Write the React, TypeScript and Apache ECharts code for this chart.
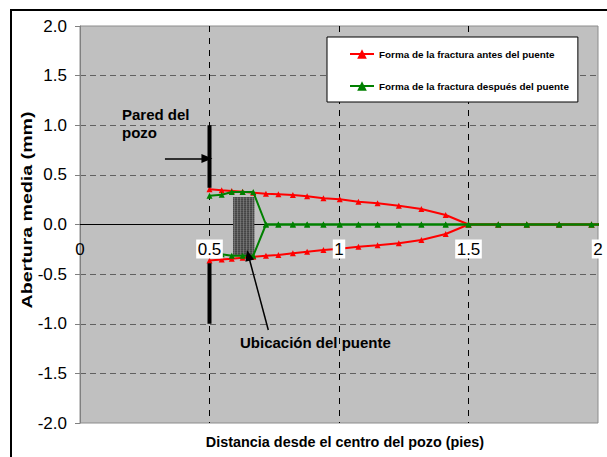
import React, { useEffect, useRef } from "react";
import * as echarts from "echarts";

const FONT = "'Liberation Sans', Arial, sans-serif";

const SERIES_BEFORE = "Forma de la fractura antes del puente";
const SERIES_AFTER = "Forma de la fractura después del puente";

const xTicks = [0, 0.5, 1, 1.5, 2];
const yTicks = [-2, -1.5, -1, -0.5, 0, 0.5, 1, 1.5, 2];

// distance from well centre (ft)
const xPos = [0.5, 0.547, 0.586, 0.628, 0.669, 0.718, 0.766, 0.822, 0.877, 0.94, 1.003, 1.075, 1.149, 1.231, 1.318, 1.412, 1.5, 1.615, 1.725, 1.85, 1.975, 2.1];
// before bridge (mm)
const redUpper = [0.355, 0.345, 0.338, 0.33, 0.32, 0.31, 0.304, 0.297, 0.284, 0.264, 0.254, 0.23, 0.213, 0.19, 0.156, 0.096, 0, 0, 0, 0, 0, 0];
const redLower = [-0.362, -0.352, -0.345, -0.336, -0.326, -0.316, -0.308, -0.29, -0.274, -0.257, -0.245, -0.225, -0.21, -0.19, -0.156, -0.096, 0, 0, 0, 0, 0, 0];
// after bridge (mm)
const greenUpper = [0.29, 0.3, 0.327, 0.327, 0.327, 0, 0, 0, 0, 0, 0, 0, 0, 0, 0, 0, 0, 0, 0, 0, 0, 0];
const greenLower = [-0.29, -0.3, -0.314, -0.314, -0.314, 0, 0, 0, 0, 0, 0, 0, 0, 0, 0, 0, 0, 0, 0, 0, 0, 0];

// well wall
const wallX = 0.5;
const wallUpper = [1.0, 0.37];
const wallLower = [-0.39, -1.0];

// bridge location [x0, yTop, x1, yBottom]
const bridgeBox = [0.591, 0.274, 0.673, -0.307];

const wallArrow = [[0.328, 0.666], [0.49, 0.666]];
const bridgeArrow = [[0.727, -1.063], [0.65, -0.31]];

function pairs(xs: number[], ys: number[]) {
  return xs.map((x, i) => [x, ys[i]]);
}

function labelWidth(s: string, size: number) {
  let w = 0;
  for (const ch of s) w += ch === "." ? 0.278 * size : 0.556 * size;
  return w;
}

export default function App() {
  const ref = useRef<HTMLDivElement>(null);
  useEffect(() => {
    if (!ref.current) return;
    const chart = echarts.init(ref.current, undefined, { renderer: "svg" });

    const lineCommon = {
      type: "line" as const,
      symbol: "triangle",
      symbolSize: 6,
      clip: true,
      lineStyle: { width: 2 },
    };

    const option: any = {
      animation: false,
      backgroundColor: "#ffffff",
      textStyle: { fontFamily: FONT },
      grid: {
        left: 80,
        right: 9,
        top: 26,
        bottom: 34,
        show: true,
        backgroundColor: "#c0c0c0",
        borderColor: "#8c8c8c",
        borderWidth: 1,
      },
      legend: {
        data: [SERIES_BEFORE, SERIES_AFTER],
        orient: "vertical",
        left: 327,
        top: 37,
        padding: [12, 9, 11, 22],
        itemGap: 22,
        itemWidth: 24,
        itemHeight: 12,
        backgroundColor: "#ffffff",
        borderColor: "#000000",
        borderWidth: 1,
        borderRadius: 0,
        textStyle: { fontSize: 9.9, fontWeight: "bold", color: "#000", fontFamily: FONT },
      },
      xAxis: {
        type: "value",
        min: 0,
        max: 2,
        interval: 0.5,
        axisLine: { onZero: true, lineStyle: { color: "#000", width: 1 } },
        axisTick: { show: false },
        axisLabel: { show: false },
        splitLine: {
          show: true,
          showMinLine: false,
          showMaxLine: false,
          lineStyle: { color: "#000", type: [6, 6], width: 1 },
        },
      },
      yAxis: {
        type: "value",
        min: -2,
        max: 2,
        interval: 0.5,
        axisLine: { show: true, onZero: false, lineStyle: { color: "#808080" } },
        axisTick: { show: true, length: 5, lineStyle: { color: "#808080" } },
        axisLabel: {
          margin: 13,
          fontSize: 17,
          color: "#000",
          fontFamily: FONT,
          formatter: (v: number) => v.toFixed(1),
        },
        splitLine: {
          show: true,
          showMinLine: false,
          showMaxLine: false,
          lineStyle: { color: "#606060", type: [6, 4], width: 1 },
        },
      },
      series: [
        {
          type: "custom",
          name: "bridge",
          silent: true,
          z: 1,
          data: [bridgeBox],
          encode: { x: [0, 2], y: [1, 3] },
          renderItem: (params: any, api: any) => {
            const p0 = api.coord([api.value(0), api.value(1)]);
            const p1 = api.coord([api.value(2), api.value(3)]);
            const x = p0[0], y = p0[1], w = p1[0] - p0[0], h = p1[1] - p0[1];
            const children: any[] = [
              { type: "rect", shape: { x, y, width: w, height: h }, style: { fill: "#666666" } },
            ];
            for (let yy = y + 0.5; yy < y + h; yy += 2) {
              children.push({ type: "line", shape: { x1: x, y1: yy, x2: x + w, y2: yy }, style: { stroke: "#383838", lineWidth: 1 } });
            }
            for (let xx = x + 1.5; xx < x + w; xx += 3) {
              children.push({ type: "line", shape: { x1: xx, y1: y, x2: xx, y2: y + h }, style: { stroke: "#9a9a9a", lineWidth: 1, opacity: 0.5 } });
            }
            return { type: "group", children };
          },
        },
        { ...lineCommon, name: SERIES_BEFORE, z: 3, data: pairs(xPos, redUpper), itemStyle: { color: "#ff0000" }, lineStyle: { width: 2, color: "#ff0000" } },
        { ...lineCommon, name: SERIES_BEFORE, z: 3, data: pairs(xPos, redLower), itemStyle: { color: "#ff0000" }, lineStyle: { width: 2, color: "#ff0000" } },
        { ...lineCommon, name: SERIES_AFTER, z: 4, data: pairs(xPos, greenUpper), itemStyle: { color: "#008000" }, lineStyle: { width: 2, color: "#008000" } },
        { ...lineCommon, name: SERIES_AFTER, z: 4, data: pairs(xPos, greenLower), itemStyle: { color: "#008000" }, lineStyle: { width: 2, color: "#008000" } },
        {
          type: "line",
          name: "wallUpper",
          z: 5,
          symbol: "none",
          silent: true,
          data: wallUpper.map((y) => [wallX, y]),
          lineStyle: { width: 4, color: "#000" },
          markLine: {
            silent: true,
            symbol: ["none", "triangle"],
            symbolSize: [9, 11],
            label: { show: false },
            lineStyle: { color: "#000", width: 1.5, type: "solid" },
            data: [
              [{ coord: wallArrow[0] }, { coord: wallArrow[1] }],
              [{ coord: bridgeArrow[0] }, { coord: bridgeArrow[1] }],
            ],
          },
        },
        {
          type: "line",
          name: "wallLower",
          z: 5,
          symbol: "none",
          silent: true,
          data: wallLower.map((y) => [wallX, y]),
          lineStyle: { width: 4, color: "#000" },
        },
        {
          type: "custom",
          name: "xTickLabels",
          silent: true,
          clip: false,
          z: 10,
          data: xTicks.map((t) => [t, 0]),
          encode: { x: 0, y: 1 },
          renderItem: (params: any, api: any) => {
            const v = api.value(0);
            const p = api.coord([v, api.value(1)]);
            const s = String(v);
            const w = labelWidth(s, 17);
            const top = p[1] + 15;
            const children: any[] = [];
            if (v !== 0) {
              children.push({
                type: "rect",
                shape: { x: p[0] - w / 2 - 1.5, y: top, width: w + 3, height: 19 },
                style: { fill: "#ffffff" },
              });
            }
            children.push({
              type: "text",
              x: p[0],
              y: top + 10,
              style: {
                text: s,
                fill: "#000",
                font: "17px " + FONT,
                align: "center",
                verticalAlign: "middle",
              },
            });
            return { type: "group", children };
          },
        },
      ],
      graphic: [
        {
          type: "rect",
          shape: { x: 11, y: 10, width: 700, height: 500 },
          style: { fill: "none", stroke: "#000", lineWidth: 2 },
          silent: true,
          z: 100,
        },
        {
          type: "text",
          x: 27,
          y: 210,
          rotation: Math.PI / 2,
          scaleX: 1.4,
          style: { text: "Abertura media (mm)", font: "bold 14px " + FONT, fill: "#000", align: "center", verticalAlign: "middle" },
        },
        {
          type: "text",
          x: 345,
          y: 442,
          style: { text: "Distancia desde el centro del pozo (pies)", font: "bold 14.4px " + FONT, fill: "#000", align: "center", verticalAlign: "middle" },
        },
        {
          type: "text",
          x: 122,
          y: 123,
          style: { text: "Pared del\npozo", font: "bold 15px " + FONT, fill: "#000", align: "left", verticalAlign: "middle", lineHeight: 18 },
        },
        {
          type: "text",
          x: 240,
          y: 342,
          style: { text: "Ubicación del puente", font: "bold 15px " + FONT, fill: "#000", align: "left", verticalAlign: "middle" },
        },
      ],
    };
    chart.setOption(option);
    return () => chart.dispose();
  }, []);
  return <div ref={ref} style={{ position: "fixed", left: 0, top: 0, width: 607, height: 457 }} />;
}
